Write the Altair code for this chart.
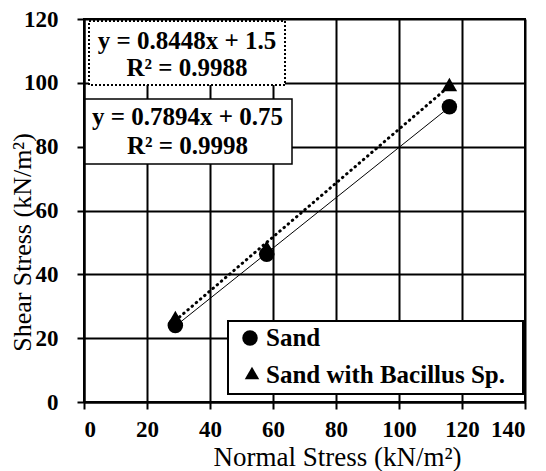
import altair as alt
import pandas as pd

# ---- data ----
normal_stress = [29, 58, 116]
shear_sand = [24.0, 46.3, 92.5]
shear_bacillus = [26.5, 48.5, 99.5]
series_names = ["Sand", "Sand with Bacillus Sp."]
eq_bacillus = ["y = 0.8448x + 1.5", "R² = 0.9988"]
eq_sand = ["y = 0.7894x + 0.75", "R² = 0.9998"]
x_ticks = [0, 20, 40, 60, 80, 100, 120, 140]
y_ticks = [0, 20, 40, 60, 80, 100, 120]

df = pd.DataFrame({
    "x": normal_stress + normal_stress,
    "y": shear_sand + shear_bacillus,
    "series": [series_names[0]] * 3 + [series_names[1]] * 3,
})

FONT = "Liberation Serif"
W, H = 441, 383

xenc = alt.X("x:Q", scale=alt.Scale(domain=[0, 140], nice=False),
             axis=alt.Axis(values=x_ticks, title="Normal Stress (kN/m²)",
                           titleX=253, titleY=63, titleAlign="center",
                           titleBaseline="alphabetic", labelPadding=9))
yenc = alt.Y("y:Q", scale=alt.Scale(domain=[0, 120], nice=False),
             axis=alt.Axis(values=y_ticks, title="Shear Stress (kN/m²)",
                           titleX=-54, titleY=223, titleAlign="center",
                           titleAngle=-90, titleBaseline="alphabetic",
                           titleFontSize=26, labelPadding=19))

base = alt.Chart(df)

points = base.mark_point(filled=True, opacity=1, color="black", size=240).encode(
    x=xenc, y=yenc,
    shape=alt.Shape("series:N",
                    scale=alt.Scale(domain=series_names, range=["circle", "triangle-up"]),
                    legend=None),
)

line_sand = base.transform_filter(alt.datum.series == series_names[0]).transform_regression(
    "x", "y").mark_line(color="black", strokeWidth=1).encode(x=xenc, y=yenc)
line_bac = base.transform_filter(alt.datum.series == series_names[1]).transform_regression(
    "x", "y").mark_line(color="black", strokeWidth=3, strokeDash=[0.5, 5],
                        strokeCap="round").encode(x=xenc, y=yenc)


def one(v):
    return alt.Chart(pd.DataFrame({"t": [v]}))


def box(x1, x2, y1, y2, dash=None, sw=1.5):
    kw = dict(fill="white", stroke="black", strokeWidth=sw)
    if dash:
        kw["strokeDash"] = dash
    return one("").mark_rect(**kw).encode(
        x=alt.value(x1), x2=alt.value(x2), y=alt.value(y1), y2=alt.value(y2))


def label(t, x, y, size=25, align="center"):
    return one(t).mark_text(font=FONT, fontSize=size, fontWeight="bold", color="black",
                            align=align, baseline="alphabetic").encode(
        text="t:N", x=alt.value(x), y=alt.value(y))


ann = [
    box(5, 201, 2, 66, dash=[2, 2], sw=2),
    label(eq_bacillus[0], 103, 30),
    label(eq_bacillus[1], 103, 57),
    box(1, 208, 80, 145, sw=1.5),
    label(eq_sand[0], 103.5, 106),
    label(eq_sand[1], 103.5, 135),
]

legend = [
    box(144, 439, 302, 375, sw=2),
    one("").mark_point(shape="circle", filled=True, opacity=1, color="black", size=240).encode(
        x=alt.value(166), y=alt.value(319)),
    one("").mark_point(shape="triangle-up", filled=True, opacity=1, color="black", size=210).encode(
        x=alt.value(168), y=alt.value(354)),
    label(series_names[0], 182, 327, align="left"),
    label(series_names[1], 182, 364, align="left"),
]

chart = alt.layer(line_sand, line_bac, points, *ann, *legend).properties(
    width=W, height=H,
    autosize=alt.AutoSizeParams(type="none"),
    padding={"left": 76, "top": 11, "right": 13, "bottom": 69},
).configure_view(stroke="black", strokeWidth=2).configure_axis(
    grid=True, gridColor="black", gridWidth=2, gridOpacity=1,
    domainColor="black", domainWidth=2, tickColor="black", tickWidth=2, tickSize=7,
    labelFont=FONT, labelFontWeight="bold", labelFontSize=23, labelColor="black",
    titleFont=FONT, titleFontWeight="normal", titleFontSize=27, titleColor="black",
)

chart.save("out.html", embed_options={"renderer": "svg", "actions": False})
